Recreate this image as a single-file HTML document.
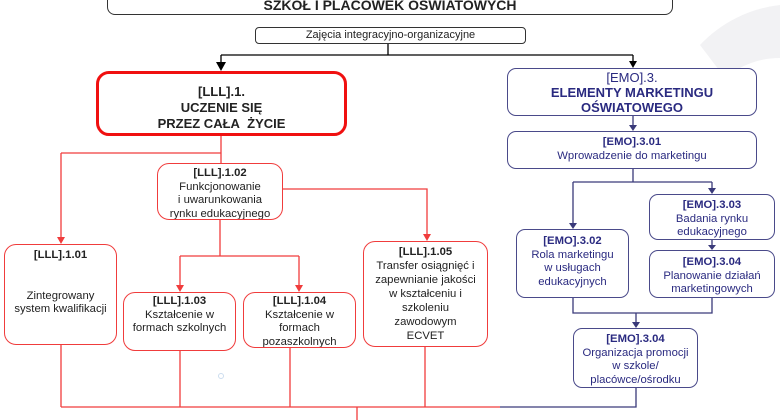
<!DOCTYPE html>
<html><head><meta charset="utf-8"><style>
body{margin:0;width:780px;height:420px;overflow:hidden;background:#fff;position:relative;font-family:"Liberation Sans",sans-serif}
.b{position:absolute;box-sizing:border-box;background:#fff;text-align:center;font-size:11.3px;line-height:13.5px;color:#222}
.r{border:1.5px solid #f03c3c;border-radius:12px}
.n{border:1.5px solid #4a4a8a;border-radius:9px;color:#2a2a80}
b{font-weight:bold}
svg{position:absolute;left:0;top:0}
</style></head><body>
<svg width="780" height="420">
<path d="M700,45 A130,130 0 0 1 780,5 L780,58 A85,85 0 0 0 725,78z" fill="#f2f2f4"/>
<g stroke="#000" stroke-width="1.3" fill="none">
<path d="M388,43 V55 M221,55 H633 M221,55 V64 M633,55 V62"/>
</g>
<path d="M216,62 L226,62 L221,71z M629,61 L637,61 L633,68z" fill="#000"/>
<g stroke="#3a3a7a" stroke-width="1.3" fill="none">
<path d="M633,116 V127 M633,169 V182 M573,182 H712 M573,182 V226 M712,182 V190 M712,240 V247 M573,298 V313 H712 V298 M636,313 V324 M636,388 V407 H500"/>
</g>
<path d="M629,125 L637,125 L633,131z M569,223 L577,223 L573,229z M708,188 L716,188 L712,194z M708,245 L716,245 L712,250z M632,322 L640,322 L636,328z" fill="#3a3a7a"/>
<g stroke="#f03c3c" stroke-width="1.3" fill="none">
<path d="M221,136 V163 M61,153 H221 M61,153 V238 M283,189 H427 V235 M220,220 V256 M180,256 H299 M180,256 V286 M299,256 V286 M61,345 V407 M180,351 V407 M290,348 V407 M425,347 V407 M61,407 H500 M357,407 V420"/>
</g>
<path d="M57,237 L65,237 L61,244z M423,234 L431,234 L427,241z M176,285 L184,285 L180,292z M295,285 L303,285 L299,292z" fill="#f03c3c"/>
<circle cx="221" cy="376" r="2.5" fill="none" stroke="#cde" stroke-width="1"/>
</svg>
<div class="b" style="left:107px;top:-22px;width:566px;height:37px;border:1.3px solid #333;border-radius:8px;font-weight:bold;font-size:14px;line-height:14px;padding-top:19px">SZKOŁ I PLACÓWEK OŚWIATOWYCH</div>
<div class="b" style="left:255px;top:27px;width:271px;height:17px;border:1.2px solid #333;border-radius:4px;font-size:11px;line-height:14px">Zajęcia integracyjno-organizacyjne</div>
<div class="b" style="left:96px;top:71px;width:251px;height:65px;border:3.5px solid #f01010;border-radius:13px;font-weight:bold;font-size:13px;line-height:16px;padding-top:10px">[LLL].1.<br>UCZENIE SIĘ<br>PRZEZ CAŁA&nbsp; ŻYCIE</div>
<div class="b n" style="left:507px;top:68px;width:250px;height:48px;font-size:13px;line-height:15px;padding-top:1px">[EMO].3.<br><b>ELEMENTY MARKETINGU<br>OŚWIATOWEGO</b></div>
<div class="b n" style="left:507px;top:131px;width:250px;height:38px;padding-top:4px"><b>[EMO].3.01</b><br>Wprowadzenie do marketingu</div>
<div class="b n" style="left:649px;top:194px;width:126px;height:46px;padding-top:4px"><b>[EMO].3.03</b><br>Badania rynku<br>edukacyjnego</div>
<div class="b n" style="left:516px;top:229px;width:113px;height:69px;padding-top:5px"><b>[EMO].3.02</b><br>Rola marketingu<br>w usługach<br>edukacyjnych</div>
<div class="b n" style="left:649px;top:250px;width:126px;height:48px;padding-top:5px"><b>[EMO].3.04</b><br>Planowanie działań<br>marketingowych</div>
<div class="b n" style="left:573px;top:328px;width:125px;height:60px;padding-top:4px;overflow:hidden"><b>[EMO].3.04</b><br>Organizacja promocji<br>w szkole/<br>placówce/ośrodku</div>
<div class="b r" style="left:157px;top:163px;width:126px;height:57px;padding-top:3px;overflow:hidden"><b>[LLL].1.02</b><br>Funkcjonowanie<br>i uwarunkowania<br>rynku edukacyjnego</div>
<div class="b r" style="left:4px;top:244px;width:113px;height:101px;padding-top:4px"><b>[LLL].1.01</b><br><br><br>Zintegrowany<br>system kwalifikacji</div>
<div class="b r" style="left:123px;top:292px;width:113px;height:59px;padding-top:2px"><b>[LLL].1.03</b><br>Kształcenie w<br>formach szkolnych</div>
<div class="b r" style="left:243px;top:292px;width:113px;height:56px;padding-top:2px;overflow:hidden"><b>[LLL].1.04</b><br>Kształcenie w<br>formach<br>pozaszkolnych</div>
<div class="b r" style="left:363px;top:241px;width:125px;height:106px;padding-top:3px;line-height:14px"><b>[LLL].1.05</b><br>Transfer osiągnięć i<br>zapewnianie jakości<br>w kształceniu i<br>szkoleniu<br>zawodowym<br>ECVET</div>
</body></html>
